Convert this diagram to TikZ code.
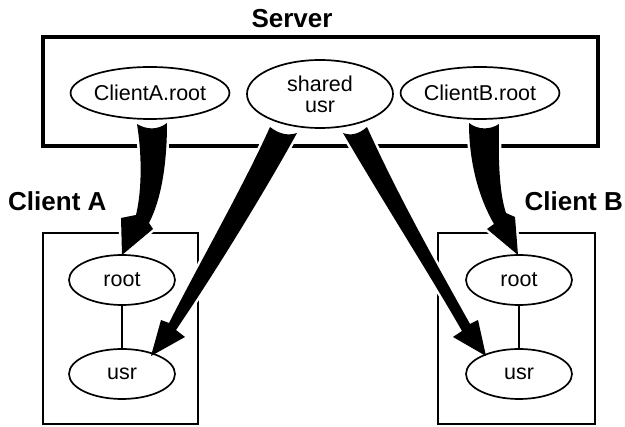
\documentclass[tikz,border=0pt]{standalone}
\usepackage{fontspec}
\setmainfont{Liberation Sans}
\usetikzlibrary{shapes.geometric}
\pgfdeclarelayer{bg}
\pgfdeclarelayer{mid}
\pgfsetlayers{bg,mid,main}
\tikzset{
  ell/.style={ellipse, draw, line width=1.7pt, inner sep=0pt, font=\fontsize{21.5}{21}\selectfont},
  srvbox/.style={draw, line width=3.5pt},
  clbox/.style={draw, line width=2.8pt},
  lbl/.style={font=\fontsize{26}{28}\selectfont\bfseries, inner sep=0pt},
  fatarrow/.style={fill=black, preaction={draw=white, line width=5pt}},
  link/.style={draw, line width=1.1pt}
}
\begin{document}
\begin{tikzpicture}[x=1pt,y=-1pt]
\useasboundingbox (0,0) rectangle (625,427);
% nodes
\node[ell, minimum width=136pt, minimum height=52pt] (car) at (150,93) {ClientA.root};
\node[ell, minimum width=146pt, minimum height=68pt, align=center] (su) at (320,94) {shared\\usr};
\node[ell, minimum width=138pt, minimum height=52pt] (cbr) at (480,93) {ClientB.root};
\node[ell, minimum width=106pt, minimum height=50pt] (ra) at (122,280) {root};
\node[ell, minimum width=106pt, minimum height=50pt] (ua) at (122,374) {usr};
\node[ell, minimum width=106pt, minimum height=50pt] (rb) at (519,280) {root};
\node[ell, minimum width=106pt, minimum height=50pt] (ub) at (519,374) {usr};
\node[lbl] (server) at (292,19) {Server};
\node[lbl, anchor=base west] (cla) at (8,211) {Client A};
\node[lbl, anchor=base east] (clb) at (623,211) {Client B};
\draw[link] (ra) -- (ua);
\draw[link] (rb) -- (ub);
\begin{pgfonlayer}{bg}
\draw[srvbox] (43,37) rectangle (598,146);
\draw[clbox] (43,233) rectangle (198,424);
\draw[clbox] (438,233) rectangle (595,424);
\end{pgfonlayer}
\begin{pgfonlayer}{mid}
% ClientA.root -> root A
\path[fatarrow] (137,124) .. controls (147,130) and (158,130) .. (167,123)
  .. controls (167,165) and (161,200) .. (149,223)
  -- (153,229) -- (122,255) -- (121,218) -- (136,215)
  .. controls (142,190) and (142,155) .. (137,124) -- cycle;
% shared usr -> usr A
\path[fatarrow] (270,127) .. controls (279,134) and (288,136) .. (297,133)
  .. controls (260,200) and (210,280) .. (176,330)
  -- (185,337) -- (151,356) -- (161,320) -- (169,323)
  .. controls (200,262) and (244,185) .. (270,127) -- cycle;
% shared usr -> usr B
\path[fatarrow] (343,133) .. controls (351,136) and (359,134) .. (367,127)
  .. controls (400,200) and (440,270) .. (470,324)
  -- (478,320) -- (486,356) -- (453,337) -- (462,331)
  .. controls (430,275) and (385,205) .. (343,133) -- cycle;
% ClientB.root -> root B
\path[fatarrow] (469,123) .. controls (478,130) and (490,130) .. (499,124)
  .. controls (498,165) and (500,195) .. (506,213)
  -- (515,217) -- (518,255) -- (487,229) -- (494,224)
  .. controls (480,200) and (469,165) .. (469,123) -- cycle;
\end{pgfonlayer}
\end{tikzpicture}
\end{document}
